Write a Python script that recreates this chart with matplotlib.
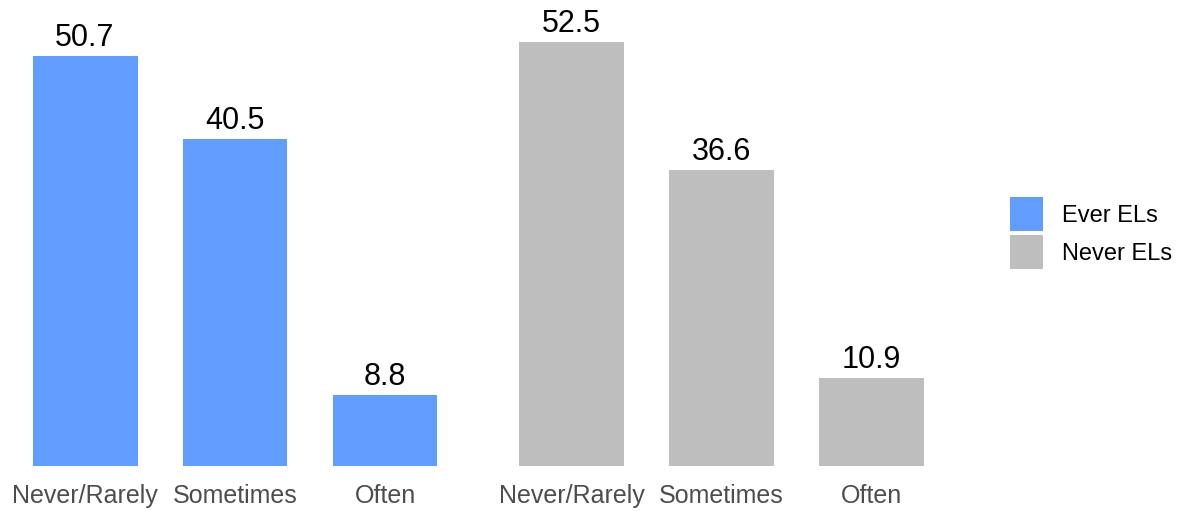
import matplotlib
matplotlib.use("Agg")
import matplotlib.pyplot as plt
from matplotlib.patches import Rectangle

plt.rcParams['font.family'] = ['Liberation Sans', 'DejaVu Sans']

categories = ["Never/Rarely", "Sometimes", "Often"]
groups = ["Ever ELs", "Never ELs"]
ever_values = [50.7, 40.5, 8.8]
never_values = [52.5, 36.6, 10.9]
colors = ["#619CFF", "#BEBEBE"]

W, H = 1179, 511
fig = plt.figure(figsize=(W / 100, H / 100), dpi=100)

def px_axes(x0, x1, y_top, y_bot):
    return fig.add_axes([x0 / W, 1 - y_bot / H, (x1 - x0) / W, (y_bot - y_top) / H])

panels = [(-5, 475), (482, 961)]
y_bot = 466
scale = 8.08
ymax = 57.0
y_top = y_bot - ymax * scale

for (x0, x1), vals, col in zip(panels, [ever_values, never_values], colors):
    ax = px_axes(x0, x1, y_top, y_bot)
    xs = list(range(1, len(categories) + 1))
    ax.bar(xs, vals, width=0.7, color=col)
    ax.set_xlim(0.4, 3.6)
    ax.set_ylim(0, ymax)
    for x, v in zip(xs, vals):
        ax.text(x, v + 1.25, f"{v}", ha='center', va='baseline', fontsize=22, color='black')
    ax.set_xticks(xs)
    ax.set_xticklabels(categories, fontsize=18, color='#4D4D4D')
    ax.tick_params(axis='x', length=0, pad=13)
    ax.set_yticks([])
    for s in ax.spines.values():
        s.set_visible(False)
    ax.patch.set_alpha(0)

# legend (key boxes + labels), positioned in figure pixels
key_x, key_w, key_h, key_step, key_top = 1010, 33, 34, 38, 197
for i, (g, c) in enumerate(zip(groups, colors)):
    top = key_top + i * key_step
    fig.patches.append(Rectangle((key_x / W, 1 - (top + key_h) / H), key_w / W, key_h / H,
                                 transform=fig.transFigure, facecolor=c, edgecolor='none'))
    fig.text(1062 / W, 1 - (top + key_h / 2) / H, g, fontsize=17, color='black',
             ha='left', va='center_baseline')

fig.savefig("out.png", dpi=100)
